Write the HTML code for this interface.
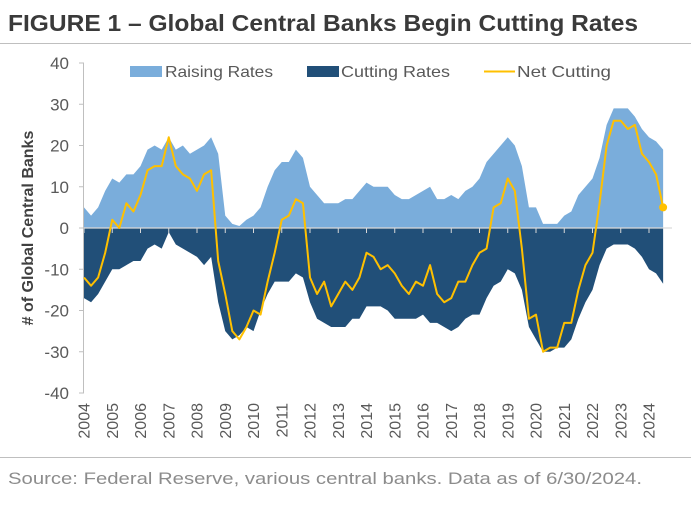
<!DOCTYPE html>
<html><head><meta charset="utf-8"><style>
html,body{margin:0;padding:0;background:#fff;}
svg{display:block;font-family:"Liberation Sans",sans-serif;}
</style></head><body>
<svg id="chart" width="691" height="506" viewBox="0 0 691 506" xmlns="http://www.w3.org/2000/svg">
<text x="8" y="31" font-size="23" font-weight="bold" fill="#3a3a3a" textLength="630" lengthAdjust="spacingAndGlyphs">FIGURE 1 – Global Central Banks Begin Cutting Rates</text>
<line x1="0" y1="43.5" x2="691" y2="43.5" stroke="#bfbfbf" stroke-width="1"/>
<g id="plot"></g>
<g>
<rect x="130" y="66" width="32" height="11" fill="#7aaddb"/>
<text x="165" y="77" font-size="16" fill="#595959" textLength="108" lengthAdjust="spacingAndGlyphs">Raising Rates</text>
<rect x="307" y="66" width="32" height="11" fill="#214f78"/>
<text x="341" y="77" font-size="16" fill="#595959" textLength="109" lengthAdjust="spacingAndGlyphs">Cutting Rates</text>
<line x1="484" y1="71.5" x2="515" y2="71.5" stroke="#ffc000" stroke-width="2"/>
<text x="517" y="77" font-size="16" fill="#595959" textLength="94" lengthAdjust="spacingAndGlyphs">Net Cutting</text>
</g>
<text transform="translate(33,228) rotate(-90)" text-anchor="middle" font-size="16" font-weight="bold" fill="#404040"># of Global Central Banks</text>
<line x1="0" y1="457.5" x2="691" y2="457.5" stroke="#bfbfbf" stroke-width="1"/>
<text x="8" y="484" font-size="17" fill="#8c8c8c" textLength="634" lengthAdjust="spacingAndGlyphs">Source: Federal Reserve, various central banks. Data as of 6/30/2024.</text>
</svg>
<script>
const years = [2004,2005,2006,2007,2008,2009,2010,2011,2012,2013,2014,2015,2016,2017,2018,2019,2020,2021,2022,2023,2024];
const yTicks = [40,30,20,10,0,-10,-20,-30,-40];
const raising = [5,3,5,9, 12,11,13,13, 15,19,20,19, 22,19,20,18, 19,20,22,18, 3,1,0.5,2, 3,5,10,14, 16,16,19,17, 10,8,6,6, 6,7,7,9, 11,10,10,10, 8,7,7,8, 9,10,7,7, 8,7,9,10, 12,16,18,20, 22,20,15,5, 5,1,1,1, 3,4,8,10, 12,17,25,29, 29,29,27,24, 22,21,19];
const cutting = [-17,-18,-16,-13, -10,-10,-9,-8, -8,-5,-4,-5, -1,-4,-5,-6, -7,-9,-7,-18, -25,-27,-26,-24, -25,-20,-16,-13, -13,-13,-11,-12, -18,-22,-23,-24, -24,-24,-22,-22, -19,-19,-19,-20, -22,-22,-22,-22, -21,-23,-23,-24, -25,-24,-22,-21, -21,-17,-14,-13, -10,-11,-15,-24, -27,-30,-30,-29, -29,-27,-22,-18, -15,-9,-5,-4, -4,-4,-5,-7, -10,-11,-13.5];
const netCutting = [-12,-14,-12,-6, 2,0,6,4, 8,14,15,15, 22,15,13,12, 9,13,14,-8, -16,-25,-27,-24, -20,-21,-13,-6, 2,3,7,6, -12,-16,-13,-19, -16,-13,-15,-12, -6,-7,-10,-9, -11,-14,-16,-13, -14,-9,-16,-18, -17,-13,-13,-9, -6,-5,5,6, 12,9,-5,-22, -21,-30,-29,-29, -23,-23,-15,-9, -6,6,20,26, 26,24,25,18, 16,13,5];

const NS='http://www.w3.org/2000/svg';
const plot=document.getElementById('plot');
const X0=84, YEARW=28.25, Y0=228, UNIT=4.125;
function xOfYear(y){return X0+(y-2004)*YEARW;}
function xOf(i){return xOfYear(2004+i*0.25);}
function yOf(v){return Y0-v*UNIT;}
function mk(tag,attrs){const e=document.createElementNS(NS,tag);for(const k in attrs)e.setAttribute(k,attrs[k]);plot.appendChild(e);return e;}

function areaPath(arr){
  let d='M'+xOf(0)+','+yOf(0);
  arr.forEach((v,i)=>{d+=' L'+xOf(i).toFixed(2)+','+yOf(v).toFixed(2);});
  d+=' L'+xOf(arr.length-1).toFixed(2)+','+yOf(0)+' Z';
  return d;
}
const ra=mk('path',{d:areaPath(raising),fill:'#7aaddb'});


const ca=mk('path',{d:areaPath(cutting),fill:'#214f78'});



const zl=mk('line',{x1:X0,y1:yOf(0),x2:672,y2:yOf(0),stroke:'#d9d9d9','stroke-width':1.2});



years.forEach(y=>{
  const x=xOfYear(y);
  const t=mk('line',{x1:x,y1:yOf(0),x2:x,y2:yOf(0)+5,stroke:'#d9d9d9','stroke-width':1});
  
  
  const l=mk('text',{transform:'translate('+(x+5.5)+',403) rotate(-90)','text-anchor':'end','font-size':16,fill:'#595959'});
  l.textContent=y;
  
  
});

const ax=mk('line',{x1:X0-0.5,y1:yOf(40),x2:X0-0.5,y2:yOf(-40),stroke:'#bfbfbf','stroke-width':1});


yTicks.forEach(v=>{
  const t=mk('line',{x1:X0-5,y1:yOf(v),x2:X0,y2:yOf(v),stroke:'#bfbfbf','stroke-width':1});
  
  
  const l=mk('text',{x:69,y:yOf(v)+6,'text-anchor':'end','font-size':17,fill:'#595959'});
  l.textContent=v;
  
  
});

const pts=netCutting.map((v,i)=>xOf(i).toFixed(2)+','+yOf(v).toFixed(2)).join(' ');
const nl=mk('polyline',{points:pts,fill:'none',stroke:'#ffc000','stroke-width':2,'stroke-linejoin':'round'});


const li=netCutting.length-1;
const dot=mk('circle',{cx:xOf(li),cy:yOf(netCutting[li]),r:4,fill:'#ffc000'});


</script>
</body></html>
